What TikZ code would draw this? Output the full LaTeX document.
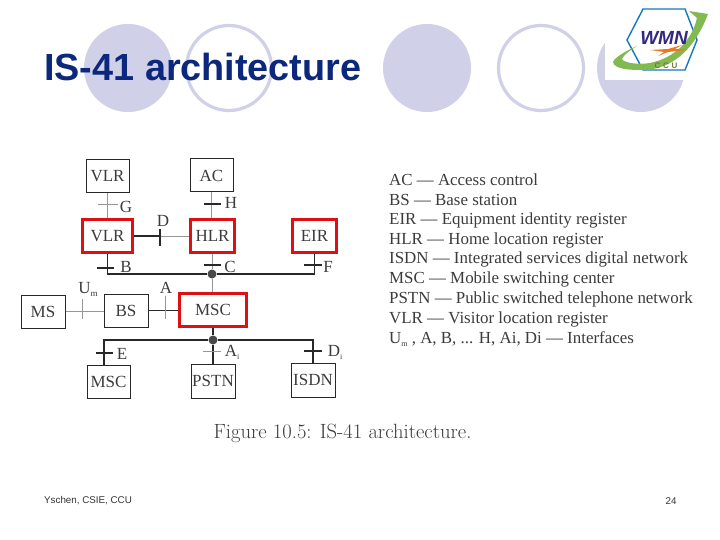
\documentclass[tikz,border=0pt]{standalone}
\usepackage{fontspec}
\newfontfamily\scanfont{Liberation Serif}
\setsansfont{Liberation Sans}
\usetikzlibrary{calc}
\definecolor{bub}{RGB}{208,208,232}
\definecolor{redb}{RGB}{222,16,20}
\definecolor{lk}{RGB}{40,40,40}
\definecolor{lite}{RGB}{150,150,150}
\definecolor{txt}{RGB}{60,60,60}
\definecolor{hexb}{RGB}{20,120,190}
\definecolor{swoosh}{RGB}{130,185,80}
\definecolor{wmnc}{RGB}{50,40,130}
\definecolor{bolt}{RGB}{235,120,30}
\definecolor{ccuc}{RGB}{120,120,60}
\definecolor{titlec}{RGB}{12,40,125}
\tikzset{
  bubfill/.style={fill=bub,draw=none},
  bubring/.style={draw=bub,line width=3.2pt,fill=white},
  plain/.style={draw=lk,line width=1pt,fill=white,inner sep=0pt,text=txt,font=\scanfont\fontsize{17}{17}\selectfont},
  redbox/.style={draw=redb,line width=3.6pt,fill=white,inner sep=0pt,text=txt,font=\scanfont\fontsize{17}{17}\selectfont},
  wire/.style={draw=lk,line width=1.1pt},
  faint/.style={draw=lite,line width=0.9pt},
  tick/.style={draw=lk,line width=1.1pt},
  lab/.style={text=txt,inner sep=0pt,font=\scanfont\fontsize{17}{17}\selectfont},
  legend/.style={text=txt,inner sep=0pt,anchor=west,font=\scanfont\fontsize{16.9}{16.9}\selectfont},
  dot/.style={circle,fill=lk!85,draw=none,minimum size=9pt,inner sep=0pt}
}
\begin{document}
\begin{tikzpicture}[x=1pt,y=-1pt]
\useasboundingbox (0,0) rectangle (720,540);
\fill[white] (0,0) rectangle (720,540);
% background circles
\fill[bubfill] (128,68) circle (44);
\draw[bubring] (229,68) circle (42.5);
\fill[bubfill] (427,68) circle (44);
\draw[bubring] (541,68) circle (42.5);
\fill[bubfill] (641,68) circle (44);
% logo
\fill[white] (605,0) rectangle (720,80);
\draw[draw=hexb,line width=1.4pt,fill=white] (643,9) -- (685,9) -- (697,40) -- (685,70) -- (643,70) -- (627,40) -- cycle;
\fill[swoosh] (637,46) .. controls (626,51) and (615,57) .. (613,62) .. controls (614,70) and (635,71) .. (653,69) .. controls (675,65) and (695,48) .. (708,14) -- (689,11) -- (697,18) .. controls (692,40) and (675,58) .. (650,63) .. controls (638,65) and (624,63) .. (622,59) .. controls (624,54) and (631,50) .. (637,46) -- cycle;
\node[inner sep=0pt,text=wmnc,font=\sffamily\bfseries\itshape\fontsize{19}{19}\selectfont] (wmn) at (664,38) {WMN};
\fill[bolt] (650,50) -- (668,49) -- (682,45) -- (675,49) -- (688,50) -- (668,52) -- (658,56) -- (664,52) -- cycle;
\node[inner sep=0pt,text=ccuc,font=\sffamily\bfseries\fontsize{8}{8}\selectfont] (ccu) at (666,66) {C\,\,C\,\,U};
% title and footer
\node[anchor=west,inner sep=0pt,text=titlec,font=\sffamily\bfseries\fontsize{37.8}{37.8}\selectfont] (title) at (44,67) {IS-41 architecture};
\node[anchor=west,inner sep=0pt,text=black!80,font=\sffamily\fontsize{9.8}{9.8}\selectfont] (foot) at (44,501) {Yschen, CSIE, CCU};
\node[inner sep=0pt,text=black!80,font=\sffamily\fontsize{9.8}{9.8}\selectfont] (pg) at (671,501) {24};
% nodes
\node[plain,minimum width=43pt,minimum height=33pt] (vlrt) at (107.5,176.5) {VLR};
\node[plain,minimum width=43pt,minimum height=33pt] (ac) at (211.5,175.5) {AC};
\node[redbox,minimum width=50pt,minimum height=33pt] (vlr) at (107.5,236) {VLR};
\node[redbox,minimum width=44pt,minimum height=33pt] (hlr) at (212.5,236) {HLR};
\node[redbox,minimum width=44pt,minimum height=33pt] (eir) at (314.5,236) {EIR};
\node[redbox,minimum width=67pt,minimum height=33pt] (msc) at (213,310) {MSC};
\node[plain,minimum width=44pt,minimum height=33pt] (bs) at (126,310.5) {BS};
\node[plain,minimum width=44pt,minimum height=33pt] (ms) at (43,311.5) {MS};
\node[plain,minimum width=43pt,minimum height=33pt] (msc2) at (108.5,381.5) {MSC};
\node[plain,minimum width=44pt,minimum height=34pt] (pstn) at (213,381) {PSTN};
\node[plain,minimum width=44pt,minimum height=34pt] (isdn) at (313,380) {ISDN};
\node[dot] (j1) at (212,274) {};
\node[dot] (j2) at (213,340) {};
\coordinate (dtick) at (160,236);
% connectors
\draw[faint] (vlrt.south) -- (vlrt.south |- vlr.north);
\draw[faint] (ac.south) -- (ac.south |- hlr.north);
\draw[wire] (vlr.east) -- (dtick);
\draw[faint] (dtick) -- (hlr.west);
\draw[wire] (vlr.south) |- (j1);
\draw[faint] (hlr.south -| j1) -- (j1);
\draw[wire] (j1) -| (eir.south);
\draw[faint] (j1) -- (j1 |- msc.north);
\draw[faint] (ms.east) -- (bs.west |- ms.east);
\draw[wire] (bs.east) -- (msc.west |- bs.east);
\draw[wire] (msc.south -| j2) -- (j2);
\draw[wire] (j2) -| (msc2.north -| 104,0);
\draw[wire] (j2) -- (j2 |- pstn.north);
\draw[wire] (j2) -| (isdn.north);
% ticks
\draw[faint] (98,204) -- (118,204);
\draw[tick] (204,204) -- (221,204);
\draw[tick] (160,229) -- (160,246);
\draw[tick] (97,268) -- (114,268);
\draw[tick] (204,265) -- (221,265);
\draw[tick] (304,265) -- (322,265);
\draw[faint] (82,299) -- (82,319);
\draw[faint] (165,296) -- (165,319);
\draw[tick] (96,353) -- (113,353);
\draw[faint] (203,351) -- (221,351);
\draw[tick] (304,351) -- (322,351);
% labels
\node[lab] (lg) at (126,207) {G};
\node[lab] (lh) at (231,203) {H};
\node[lab] (ld) at (163,221) {D};
\node[lab] (lb) at (126,267) {B};
\node[lab] (lc) at (230,267) {C};
\node[lab] (lf) at (328,267) {F};
\node[lab] (lu) at (88,289) {U\raisebox{-3pt}{\fontsize{9}{9}\selectfont m}};
\node[lab] (la) at (166,288) {A};
\node[lab] (le) at (122,354) {E};
\node[lab] (lai) at (232,352) {A\raisebox{-3pt}{\fontsize{8}{8}\selectfont i}};
\node[lab] (ldi) at (335,352) {D\raisebox{-3pt}{\fontsize{8}{8}\selectfont i}};
% legend
\node[legend] (k1) at (389,180) {AC — Access control};
\node[legend] (k2) at (389,200) {BS — Base station};
\node[legend] (k3) at (389,220) {EIR — Equipment identity register};
\node[legend] (k4) at (389,240) {HLR — Home location register};
\node[legend] (k5) at (389,259) {ISDN — Integrated services digital network};
\node[legend] (k6) at (389,279) {MSC — Mobile switching center};
\node[legend] (k7) at (389,299) {PSTN — Public switched telephone network};
\node[legend] (k8) at (389,319) {VLR — Visitor location register};
\node[legend] (k9) at (389,339) {U\raisebox{-3pt}{\fontsize{8}{8}\selectfont m} , A, B, ... H, Ai, Di — Interfaces};
\node[inner sep=0pt,text=txt,font=\rmfamily\fontsize{20.6}{20.6}\selectfont] (cap) at (342.5,433) {Figure 10.5: IS-41 architecture.};
\end{tikzpicture}
\end{document}
